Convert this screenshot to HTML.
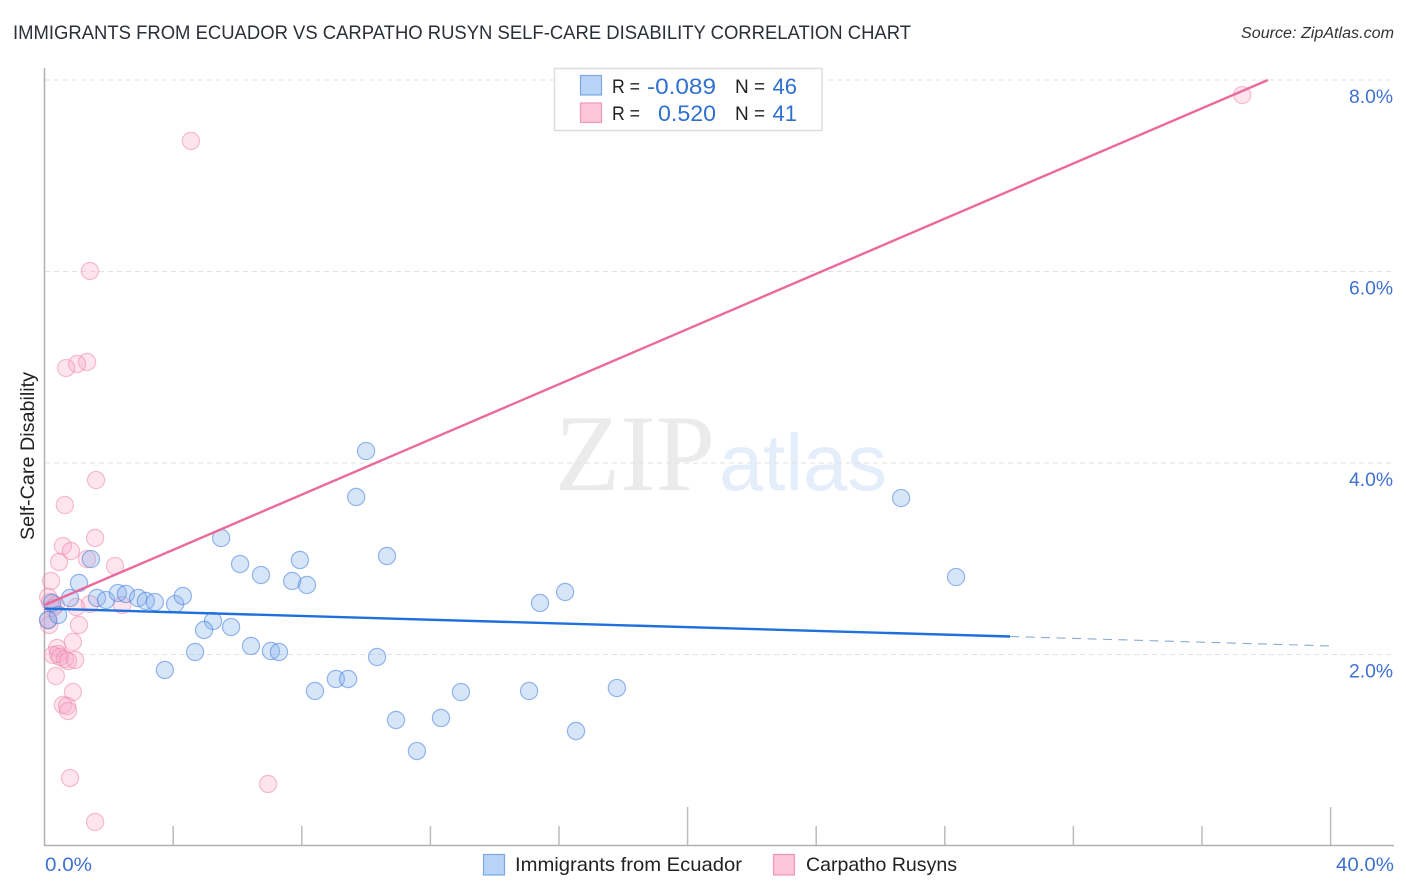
<!DOCTYPE html>
<html lang="en">
<head>
<meta charset="utf-8">
<title>Immigrants from Ecuador vs Carpatho Rusyn Self-Care Disability Correlation Chart</title>
<style>
html,body{margin:0;padding:0;background:#fff;width:1406px;height:892px;overflow:hidden}
svg{display:block}
text{font-family:"Liberation Sans",sans-serif}
</style>
</head>
<body>
<svg id="chart" xmlns="http://www.w3.org/2000/svg" width="1406" height="892" viewBox="0 0 1406 892">
  <rect x="0" y="0" width="1406" height="892" fill="#fff"/>
  <text x="13" y="39" font-size="19.5" fill="#2b2f36" textLength="898" lengthAdjust="spacingAndGlyphs">IMMIGRANTS FROM ECUADOR VS CARPATHO RUSYN SELF-CARE DISABILITY CORRELATION CHART</text>
  <text x="1394" y="38" font-size="15.5" font-style="italic" fill="#333" text-anchor="end" textLength="153" lengthAdjust="spacingAndGlyphs">Source: ZipAtlas.com</text>

  <g>
    <text x="555" y="490" font-size="109" fill="#ebebeb" style="font-family:'Liberation Serif',serif" textLength="160" lengthAdjust="spacingAndGlyphs">ZIP</text>
    <text x="719" y="490" font-size="80" fill="#e4edfa" textLength="168" lengthAdjust="spacingAndGlyphs">atlas</text>
  </g>

  <g id="grid"></g>
  <g id="axes"></g>
  <g id="points-pink"></g>
  <g id="points-blue"></g>
  <g id="trends"></g>
  <g id="labels"></g>

  <text transform="translate(34,456) rotate(-90)" font-size="19" fill="#222" text-anchor="middle" textLength="168" lengthAdjust="spacingAndGlyphs">Self-Care Disability</text>

  <g>
    <rect x="554.5" y="68.5" width="267.5" height="62" fill="#fff" stroke="#dedede" stroke-width="1.5"/>
    <rect x="580.5" y="75.5" width="21" height="19.5" fill="#b8d3f6" stroke="#7aa8e6" stroke-width="1.2"/>
    <rect x="580.5" y="103" width="21" height="19.5" fill="#fcc6d8" stroke="#f09ab8" stroke-width="1.2"/>
    <text x="612" y="93" font-size="19" fill="#222" textLength="28" lengthAdjust="spacingAndGlyphs">R =</text>
    <text x="716" y="94" font-size="22" fill="#2f6fd0" text-anchor="end" textLength="69" lengthAdjust="spacingAndGlyphs">-0.089</text>
    <text x="735" y="93" font-size="19" fill="#222">N =</text>
    <text x="797" y="94" font-size="22" fill="#2f6fd0" text-anchor="end">46</text>
    <text x="612" y="120" font-size="19" fill="#222" textLength="28" lengthAdjust="spacingAndGlyphs">R =</text>
    <text x="716" y="121" font-size="22" fill="#2f6fd0" text-anchor="end" textLength="58" lengthAdjust="spacingAndGlyphs">0.520</text>
    <text x="735" y="120" font-size="19" fill="#222">N =</text>
    <text x="797" y="121" font-size="22" fill="#2f6fd0" text-anchor="end">41</text>
  </g>

  <g>
    <rect x="483.5" y="854.5" width="21" height="20.5" fill="#b8d3f6" stroke="#7aa8e6" stroke-width="1.2"/>
    <text x="515" y="871" font-size="19.5" fill="#222" textLength="227" lengthAdjust="spacingAndGlyphs">Immigrants from Ecuador</text>
    <rect x="773.5" y="854.5" width="21" height="20.5" fill="#fcc6d8" stroke="#f09ab8" stroke-width="1.2"/>
    <text x="806" y="871" font-size="19.5" fill="#222" textLength="151" lengthAdjust="spacingAndGlyphs">Carpatho Rusyns</text>
  </g>
</svg>
<script>
// x values: percent of Immigrants from Ecuador; y values: Self-Care Disability percent
const blueX = [10.0,9.69,5.49,26.64,28.35,10.65,7.94,6.08,6.73,7.70,8.16,16.19,15.41,1.44,1.07,0.79,1.63,1.91,2.28,2.53,2.91,3.15,3.43,4.06,4.30,5.24,4.96,5.80,6.42,4.68,7.04,7.29,10.34,3.74,9.06,9.44,8.41,12.95,15.07,17.80,10.93,12.33,16.53,11.58,0.11,0.42,0.23];
const blueY = [4.125,3.645,3.217,3.634,2.809,3.029,2.987,2.945,2.830,2.768,2.726,2.653,2.538,2.997,2.747,2.590,2.590,2.569,2.642,2.632,2.590,2.559,2.548,2.527,2.611,2.350,2.256,2.287,2.089,2.026,2.037,2.026,1.974,1.838,1.744,1.744,1.619,1.608,1.619,1.650,1.316,1.337,1.201,0.992,2.360,2.413,2.538];
const pinkX = [4.55,1.41,1.32,1.01,0.67,1.60,0.63,1.57,0.57,0.82,0.45,1.32,2.19,0.20,1.41,2.41,0.98,1.07,0.11,0.17,0.26,0.35,0.14,0.11,0.88,0.39,0.26,0.42,0.48,0.63,0.73,0.95,0.35,0.88,0.57,0.70,0.73,0.79,6.95,1.57,37.25];
const pinkY = [7.363,6.005,5.055,5.034,4.992,3.822,3.561,3.217,3.133,3.081,2.966,2.997,2.924,2.768,2.527,2.517,2.496,2.308,2.601,2.548,2.486,2.517,2.308,2.360,2.131,2.068,1.995,2.005,1.974,1.953,1.932,1.943,1.775,1.608,1.473,1.462,1.410,0.710,0.648,0.251,7.843];
const blueTrendX = [0,30.03,40];
const blueTrendY = [2.48,2.188,2.089];
const pinkTrendX = [0,38.05];
const pinkTrendY = [2.517,8.0];
const yTicks = [2,4,6,8];
const yTickLabels = ['2.0%','4.0%','6.0%','8.0%'];
const xTicks = [4,8,12,16,20,24,28,32,36,40];
const xMajorTicks = [20,40];
const xEndTicks = [0,40];
const xEndLabels = ['0.0%','40.0%'];

const SVGNS = 'http://www.w3.org/2000/svg';
function sx(v){ return 44.6 + v * 32.15; }
function sy(v){ return 846 - v * 95.75; }
function make(tag, parent, attrs){
  const el = document.createElementNS(SVGNS, tag);
  for (const k in attrs) el.setAttribute(k, attrs[k]);
  parent.appendChild(el);
  return el;
}
const grid = document.getElementById('grid');
const axes = document.getElementById('axes');
const labels = document.getElementById('labels');
const trends = document.getElementById('trends');

yTicks.forEach(function(t, i){
  const line = make('line', grid, {x1:45, x2:1394, y1:sy(t), y2:sy(t), stroke:'#e2e2e2', 'stroke-width':1, 'stroke-dasharray':'5 4'});
  
  
  const lab = make('text', labels, {x:1393, y:sy(t)+23, 'font-size':19.5, fill:'#3f72cf', 'text-anchor':'end', textLength:44, lengthAdjust:'spacingAndGlyphs'});
  lab.textContent = yTickLabels[i];
  
  
});

const yAxis = make('line', axes, {x1:44.5, x2:44.5, y1:68, y2:846, stroke:'#b0b0b0', 'stroke-width':1.5});


const xAxis = make('line', axes, {x1:44, x2:1394, y1:845.5, y2:845.5, stroke:'#b0b0b0', 'stroke-width':1.5});


xTicks.forEach(function(t){
  const top = xMajorTicks.indexOf(t) >= 0 ? 807 : 826;
  const tick = make('line', axes, {x1:sx(t), x2:sx(t), y1:top, y2:845, stroke:'#bcbcbc', 'stroke-width':1.5});
  
  
});
xEndTicks.forEach(function(t, i){
  const isFirst = i === 0;
  const lab = make('text', labels, {x:isFirst ? 45 : 1394, y:871, 'font-size':19.5, fill:'#3f72cf', 'text-anchor':isFirst ? 'start' : 'end', textLength:isFirst ? 47 : 58, lengthAdjust:'spacingAndGlyphs'});
  lab.textContent = xEndLabels[i];
  
  
});

pinkX.forEach(function(v, i){
  const c = make('circle', document.getElementById('points-pink'), {cx:sx(v), cy:sy(pinkY[i]), r:8.6, fill:'rgba(248,170,198,0.32)', stroke:'rgba(238,130,170,0.5)', 'stroke-width':1.2});
  
  
});
blueX.forEach(function(v, i){
  const c = make('circle', document.getElementById('points-blue'), {cx:sx(v), cy:sy(blueY[i]), r:8.6, fill:'rgba(130,175,235,0.32)', stroke:'rgba(70,130,220,0.55)', 'stroke-width':1.2});
  
  
});

const blueSolid = make('line', trends, {x1:sx(blueTrendX[0]), y1:sy(blueTrendY[0]), x2:sx(blueTrendX[1]), y2:sy(blueTrendY[1]), stroke:'#1f6fdc', 'stroke-width':2.4});


const blueDash = make('line', trends, {x1:sx(blueTrendX[1]), y1:sy(blueTrendY[1]), x2:sx(blueTrendX[2]), y2:sy(blueTrendY[2]), stroke:'#8aaad6', 'stroke-width':1.1, 'stroke-dasharray':'9 6.5'});


const pinkLine = make('line', trends, {x1:sx(pinkTrendX[0]), y1:sy(pinkTrendY[0]), x2:sx(pinkTrendX[1]), y2:sy(pinkTrendY[1]), stroke:'#ea6a9b', 'stroke-width':2.4});


</script>
</body>
</html>
